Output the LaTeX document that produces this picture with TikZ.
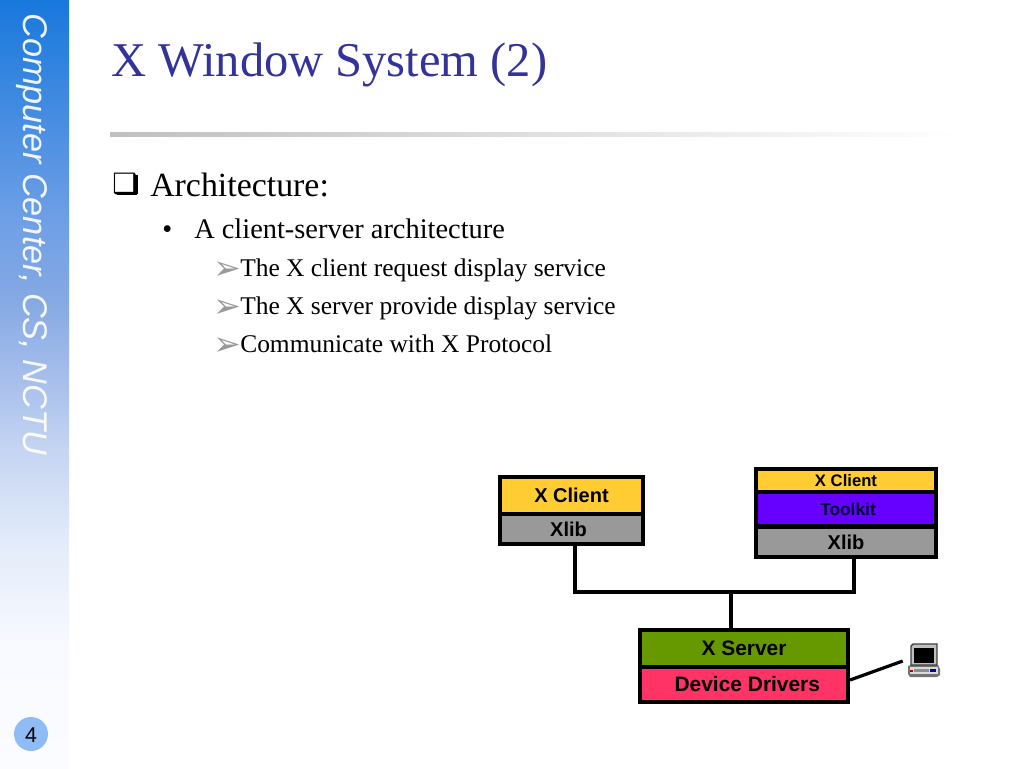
\documentclass[tikz,border=0pt]{standalone}
\usepackage{fontspec}
\setmainfont{Liberation Serif}
\setsansfont{Liberation Sans}
\newfontfamily\symfont{DejaVu Sans}
\usetikzlibrary{positioning}
\definecolor{titleblue}{HTML}{333399}
\definecolor{pagedot}{HTML}{8FBCF5}
\definecolor{clientcol}{HTML}{FFCC33}
\definecolor{libcol}{HTML}{999999}
\definecolor{toolcol}{HTML}{6600FF}
\definecolor{servercol}{HTML}{669900}
\definecolor{drivercol}{HTML}{FF3366}
\definecolor{bar0}{HTML}{1878DC}
\definecolor{bar1}{HTML}{6E9FE6}
\definecolor{bar2}{HTML}{85A9E3}
\definecolor{bar3}{HTML}{A9C0EC}
\definecolor{bar4}{HTML}{C5D5F2}
\definecolor{bar5}{HTML}{E5EDFA}
\definecolor{bar6}{HTML}{F8FAFF}
\definecolor{bar7}{HTML}{FBFCFF}
\pgfdeclareverticalshading{barshade}{100bp}{color(0bp)=(bar7);color(25bp)=(bar7);color(32.7bp)=(bar6);color(39.2bp)=(bar5);color(45.7bp)=(bar4);color(50bp)=(bar3);color(55.5bp)=(bar2);color(60.7bp)=(bar1);color(75bp)=(bar0);color(100bp)=(bar0)}
\def\px{0.75pt}
\begin{document}
\begin{tikzpicture}[x=0.75pt,y=-0.75pt,
  cell/.style={draw=black,line width=3.5*\px,inner sep=0pt,font=\sffamily\bfseries},
  wire/.style={line width=3.2*\px,black},
  level/.style={anchor=base west,inner sep=0pt,text=black}]
\useasboundingbox (0,0) rectangle (1024,768);
\fill[white] (0,0) rectangle (1024,768);
\shade[shading=barshade,draw=none] (0,0) rectangle (69,768);
\node[rotate=-90,anchor=base west,inner sep=0pt,text=white,opacity=.92,font=\sffamily\itshape\fontsize{25.7}{26}\selectfont] (sidebar) at (23,13) {Computer Center, CS, NCTU};
\fill[pagedot] (31,734) circle (17);
\node[font=\sffamily\fontsize{16}{16}\selectfont,inner sep=0pt] (pagenum) at (31,735) {4};

\node[level,text=titleblue,font=\fontsize{36.4}{36}\selectfont] (title) at (111,76) {X Window System (2)};
\shade[left color=black!25,right color=white,draw=none] (110,132) rectangle (960,136);

\node[level,font=\symfont\fontsize{21}{21}\selectfont] (markA) at (112,193) {❑};
\draw[line width=3*\px,line join=round] (136.5,174.5) -- (136.5,193.5) -- (117,193.5);
\node[level,font=\fontsize{25.4}{25}\selectfont] (arch) at (150,196) {Architecture:};
\node[level,font=\fontsize{21.3}{21}\selectfont] (markB) at (162,238) {•};
\node[level,font=\fontsize{21.3}{21}\selectfont] (clientserver) at (194,238) {A client-server architecture};
\foreach \name/\ypos/\txt in {itemA/276/The X client request display service,itemB/314/The X server provide display service,itemC/352/Communicate with X Protocol}{
  \node[level,text=black!40,font=\symfont\fontsize{25}{25}\selectfont] (\name mark) at (213,\ypos+3) {➢};
  \node[level,font=\fontsize{19.1}{19}\selectfont] (\name) at (240,\ypos) {\txt};
}

\node[cell,fill=clientcol,minimum width=143*\px,minimum height=37*\px,font=\sffamily\bfseries\fontsize{15}{15}\selectfont] (clientA) at (571.5,495.5) {X Client};
\node[cell,fill=libcol,minimum width=143*\px,minimum height=30*\px,font=\sffamily\bfseries\fontsize{15}{15}\selectfont] (xlibA) at (571.5,529) {Xlib\hspace*{4.5pt}};

\node[cell,fill=clientcol,minimum width=180*\px,minimum height=24*\px,font=\sffamily\bfseries\fontsize{12.5}{12.5}\selectfont] (clientB) at (846,481) {X Client};
\node[cell,fill=toolcol,text=black!80!blue,minimum width=180*\px,minimum height=34*\px,font=\sffamily\bfseries\fontsize{13}{13}\selectfont] (toolkit) at (846,509) {\hspace*{3pt}Toolkit};
\node[cell,fill=libcol,minimum width=180*\px,minimum height=30*\px,font=\sffamily\bfseries\fontsize{15}{15}\selectfont] (xlibB) at (846,542) {Xlib};

\node[cell,fill=servercol,minimum width=208*\px,minimum height=37*\px,font=\sffamily\bfseries\fontsize{15.7}{15.7}\selectfont] (server) at (744,648.5) {X Server};
\node[cell,fill=drivercol,minimum width=208*\px,minimum height=35*\px,font=\sffamily\bfseries\fontsize{15.7}{15.7}\selectfont] (drivers) at (744,684.5) {\hspace*{5pt}Device Drivers};

\node[minimum width=44*\px,minimum height=34*\px,inner sep=0pt] (pc) at (925,661) {};
\fill[black!55] (908,666) -- (911,665) -- (938,665) -- (940,669) -- (940,675) -- (937,677) -- (910,677) -- (908,674) -- cycle;
\fill[black!15] (910,667) rectangle (938,674);
\fill[black!45] (914,669) rectangle (929,672);
\fill[red!70!black] (910,670) rectangle (913,672);
\fill[blue!70!black] (930,669) rectangle (936,672);
\draw[black!75,fill=black!25,line width=1.4*\px] (911,646) -- (913,644) -- (937,644) -- (937,665) -- (911,665) -- cycle;
\fill[black] (914,648) rectangle (934,663);

\coordinate (busL) at (575,592);
\coordinate (busR) at (854,592);
\coordinate (busC) at (731,592);
\draw[wire] (xlibA.south -| busL) -- (busL) -- (busR) -- (xlibB.south -| busR);
\draw[wire] (busC) -- (server.north -| busC);
\coordinate (driverout) at (850,680);
\draw[wire] (driverout) -- (pc.west);
\end{tikzpicture}
\end{document}
